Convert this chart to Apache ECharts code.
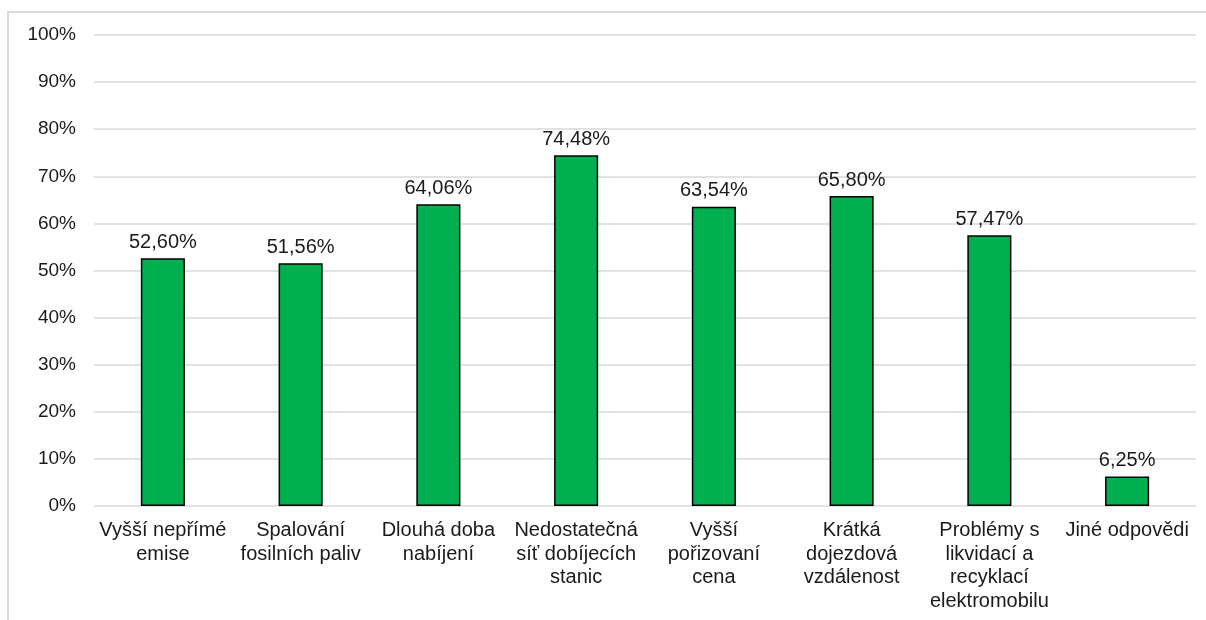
<!DOCTYPE html>
<html>
<head>
<meta charset="utf-8">
<script src="https://cdn.jsdelivr.net/npm/echarts@6/dist/echarts.min.js"></script>
<style>
  html, body { margin: 0; padding: 0; background: #fff; }
  #chart { width: 1206px; height: 620px; }
</style>
</head>
<body>
<div id="chart"></div>
<script>
// Categories (wrapped like the original multi-line axis labels)
const categories = [
  'Vyšší nepřímé\nemise',
  'Spalování\nfosilních paliv',
  'Dlouhá doba\nnabíjení',
  'Nedostatečná\nsíť dobíjecích\nstanic',
  'Vyšší\npořizovaní\ncena',
  'Krátká\ndojezdová\nvzdálenost',
  'Problémy s\nlikvidací a\nrecyklací\nelektromobilu',
  'Jiné odpovědi'
];

// Share of respondents, in percent
const values = [52.60, 51.56, 64.06, 74.48, 63.54, 65.80, 57.47, 6.25];

// Y axis range and step, in percent
const yMin = 0;
const yMax = 100;
const yStep = 10;

const fmtPct = v => v.toFixed(2).replace('.', ',') + '%';

const chart = echarts.init(document.getElementById('chart'));
chart.setOption({
  animation: false,
  textStyle: { fontFamily: 'Liberation Sans, Arial, sans-serif' },
  graphic: [{
    type: 'rect',
    shape: { x: 8, y: 12, width: 1230, height: 700 },
    style: { fill: 'none', stroke: '#d9d9d9', lineWidth: 2 },
    silent: true
  }],
  grid: { left: 94, right: 10, top: 35, bottom: 114 },
  xAxis: {
    type: 'category',
    data: categories,
    axisLine: { show: false },
    axisTick: { show: false },
    axisLabel: {
      interval: 0,
      color: '#1a1a1a',
      fontSize: 20,
      lineHeight: 23.5,
      margin: 13
    }
  },
  yAxis: {
    type: 'value',
    min: yMin,
    max: yMax,
    interval: yStep,
    axisLine: { show: false },
    axisTick: { show: false },
    splitLine: { lineStyle: { color: '#d9d9d9', width: 1.5 } },
    axisLabel: {
      color: '#1a1a1a',
      fontSize: 19,
      margin: 18,
      formatter: v => v + '%'
    }
  },
  series: [{
    type: 'bar',
    data: values,
    barWidth: '32%',
    itemStyle: { color: '#00b050', borderColor: '#000', borderWidth: 1.5 },
    label: {
      show: true,
      position: 'top',
      distance: 6,
      color: '#1a1a1a',
      fontSize: 20,
      formatter: p => fmtPct(p.value)
    }
  }]
});
</script>
</body>
</html>
